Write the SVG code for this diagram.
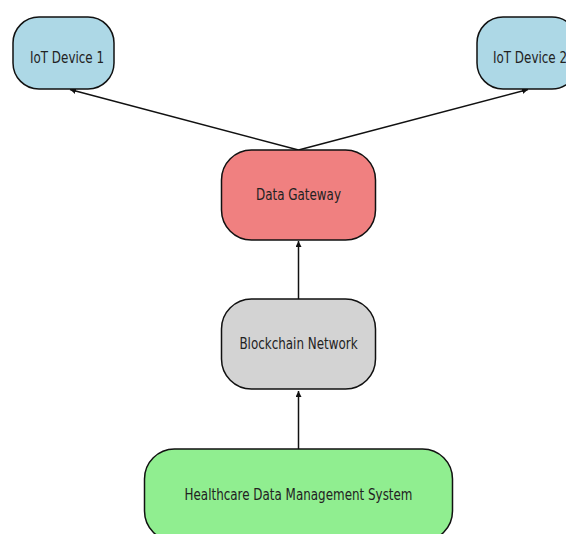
<svg xmlns="http://www.w3.org/2000/svg" width="566" height="534" viewBox="0 0 566 534">
  <style>
    .box { stroke: #111; stroke-width: 1.5; }
    .label { font-family: "DejaVu Sans", sans-serif; font-size: 15.5px; fill: #222; text-anchor: middle; }
    .edge { stroke: #111; stroke-width: 1.5; fill: none; marker-end: url(#head); }
  </style>
  <defs>
    <marker id="head" viewBox="0 0 10 10" refX="10" refY="5" markerWidth="6" markerHeight="6" markerUnits="userSpaceOnUse" orient="auto">
      <path d="M0,0 L10,5 L0,10 z" fill="#111"/>
    </marker>
  </defs>
  <rect width="566" height="534" fill="#fff"/>

  <g id="connectors">
    <line class="edge" x1="298.5" y1="150" x2="70" y2="89.5"/>
    <line class="edge" x1="298.5" y1="150" x2="528" y2="89.5"/>
    <line class="edge" x1="298.5" y1="299" x2="298.5" y2="241"/>
    <line class="edge" x1="298.5" y1="449" x2="298.5" y2="391"/>
  </g>

  <!-- labels are drawn horizontally squeezed -->
  <g id="iot1">
    <rect class="box" x="13" y="17" width="101" height="72" rx="26" fill="#add8e6"/>
    <text class="label" transform="translate(67 63) scale(0.77 1)">IoT Device 1</text>
  </g>
  <g id="iot2">
    <rect class="box" x="477" y="17" width="101" height="72" rx="26" fill="#add8e6"/>
    <text class="label" transform="translate(530 63) scale(0.77 1)">IoT Device 2</text>
  </g>
  <g id="gateway">
    <rect class="box" x="221.5" y="150" width="154" height="90" rx="30" fill="#f08080"/>
    <text class="label" transform="translate(298.5 200) scale(0.77 1)">Data Gateway</text>
  </g>
  <g id="blockchain">
    <rect class="box" x="221.5" y="299" width="154" height="90" rx="30" fill="#d3d3d3"/>
    <text class="label" transform="translate(298.5 349) scale(0.77 1)">Blockchain Network</text>
  </g>
  <g id="hdms">
    <rect class="box" x="144.5" y="449" width="308" height="92" rx="30" fill="#90ee90"/>
    <text class="label" transform="translate(298.5 500) scale(0.77 1)">Healthcare Data Management System</text>
  </g>
</svg>
